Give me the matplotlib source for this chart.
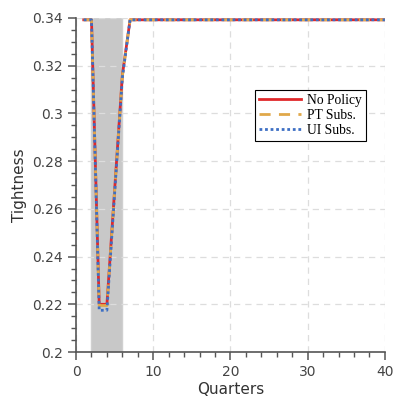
import numpy as np
import matplotlib
matplotlib.use("Agg")
import matplotlib.pyplot as plt
from matplotlib.ticker import MultipleLocator

quarters = list(range(1, 41))
steady = 0.3392
no_policy = [steady, steady, 0.2200, 0.2200, 0.2680, 0.3160] + [steady] * 34
pt_subs = [steady, steady, 0.2195, 0.2195, 0.2675, 0.3155] + [steady] * 34
ui_subs = [steady, steady, 0.2175, 0.2175, 0.2665, 0.3150] + [steady] * 34
recession = (2, 6)

fig = plt.figure(figsize=(3.96, 4.07), dpi=100)
ax = fig.add_axes([0.192, 0.135, 0.78, 0.821])

ax.axvspan(recession[0], recession[1], color="#c8c8c8", zorder=0, lw=1, ec="#d0d0d0")
ax.grid(True, color="#dddddd", linestyle=(0, (5, 4)), lw=0.9, zorder=1)

ax.plot(quarters, no_policy, color="#e0282a", lw=2, label="No Policy", zorder=3)
ax.plot(quarters, pt_subs, color="#e0a84a", lw=2, ls=(0, (4, 3)), label="PT Subs.", zorder=4)
ax.plot(quarters, ui_subs, color="#3d6fc4", lw=2, ls=(0, (1, 1)), label="UI Subs.", zorder=5)

ax.set_xlim(0, 40)
ax.set_ylim(0.2, 0.34)
ax.set_xticks([0, 10, 20, 30, 40])
ax.set_yticks([0.2, 0.22, 0.24, 0.26, 0.28, 0.3, 0.32, 0.34])
ax.set_yticklabels(["0.2", "0.22", "0.24", "0.26", "0.28", "0.3", "0.32", "0.34"])
ax.xaxis.set_minor_locator(MultipleLocator(2))
ax.yaxis.set_minor_locator(MultipleLocator(0.005))
for s in ["top", "right"]:
    ax.spines[s].set_visible(False)
for s in ["left", "bottom"]:
    ax.spines[s].set_color("#555555")
    ax.spines[s].set_linewidth(1.2)
ax.tick_params(which="major", direction="out", length=6, width=1.1, color="#555555",
               labelcolor="#444444", labelsize=10)
ax.tick_params(which="minor", direction="out", length=3.5, width=1.0, color="#555555")
ax.set_xlabel("Quarters", fontsize=11, color="#333333", labelpad=2)
ax.set_ylabel("Tightness", fontsize=11, color="#333333", labelpad=4)

leg = ax.legend(loc="upper left", bbox_to_anchor=(0.58, 0.785), frameon=True, fancybox=False,
                edgecolor="black", prop={"family": "Liberation Serif", "size": 9.8},
                handlelength=3.1, borderpad=0.3, labelspacing=0.15, handletextpad=0.4,
                borderaxespad=0)
leg.get_frame().set_linewidth(0.8)
leg.get_frame().set_alpha(1)

fig.savefig("out.png", dpi=100)
